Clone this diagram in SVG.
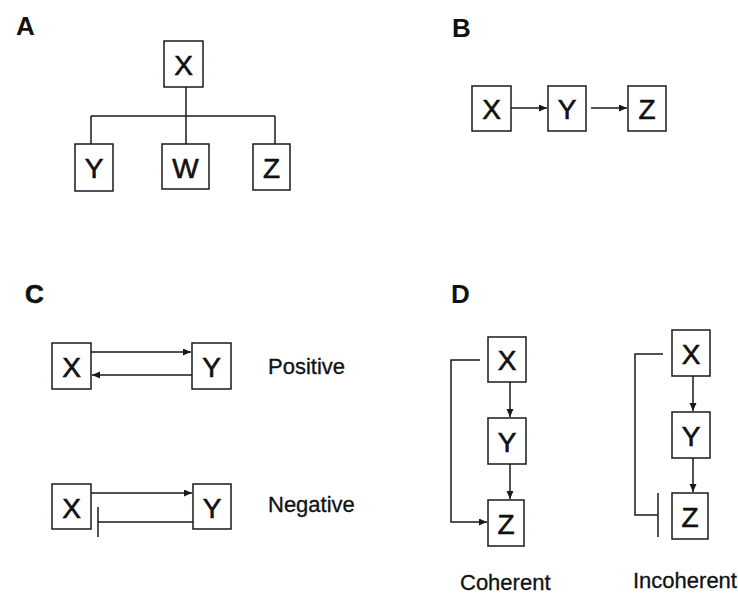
<svg xmlns="http://www.w3.org/2000/svg" width="738" height="596" viewBox="0 0 738 596">
  <style>
    .box { fill: #fff; stroke: #1a1a1a; stroke-width: 1.5; }
    .node { font-family: "Liberation Sans", Arial, sans-serif; font-size: 28px; fill: #111; stroke: #111; stroke-width: 0.6; text-anchor: middle; }
    .panel { font-family: "Liberation Sans", Arial, sans-serif; font-size: 26px; fill: #111; font-weight: bold; }
    .cap { font-family: "Liberation Sans", Arial, sans-serif; font-size: 22px; fill: #111; stroke: #111; stroke-width: 0.3; }
    .wire { fill: none; stroke: #1a1a1a; stroke-width: 1.5; }
    .arr { marker-end: url(#head); }
  </style>
  <defs>
    <marker id="head" markerUnits="userSpaceOnUse" markerWidth="9" markerHeight="8" refX="8" refY="3.5" orient="auto">
      <path d="M0,0 L8,3.5 L0,7 z" fill="#1a1a1a"/>
    </marker>
  </defs>
  <rect width="738" height="596" fill="#fff"/>

  <!-- panel labels -->
  <text class="panel" x="16" y="35">A</text>
  <text class="panel" x="452" y="37">B</text>
  <text class="panel" x="25" y="303" font-weight="normal" stroke="#111" stroke-width="0.6">C</text>
  <text class="panel" x="451" y="303">D</text>

  <!-- captions -->
  <text class="cap" x="268" y="374">Positive</text>
  <text class="cap" x="268" y="512">Negative</text>
  <text class="cap" x="460" y="590">Coherent</text>
  <text class="cap" x="633" y="588">Incoherent</text>

  <g id="connectors">
    <!-- A: X fans out to Y, W, Z -->
    <path class="wire" d="M186,87 V144 M91,116 H275 M91,116 V144 M275,116 V144"/>
    <!-- B: cascade -->
    <line class="wire arr" x1="511" y1="108" x2="547" y2="108"/>
    <line class="wire arr" x1="591" y1="108" x2="627" y2="108"/>
    <!-- C positive loop -->
    <line class="wire arr" x1="91" y1="352" x2="191" y2="352"/>
    <line class="wire arr" x1="194" y1="375" x2="92" y2="375"/>
    <!-- C negative loop -->
    <line class="wire arr" x1="91" y1="493" x2="192" y2="493"/>
    <path class="wire" d="M194,522 H98 M98,507 V537"/>
    <!-- D coherent -->
    <line class="wire arr" x1="510" y1="382" x2="510" y2="417"/>
    <line class="wire arr" x1="510" y1="464" x2="510" y2="499"/>
    <path class="wire arr" d="M480,360 H451 V522 H487"/>
    <!-- D incoherent -->
    <line class="wire arr" x1="693" y1="376" x2="693" y2="411"/>
    <line class="wire arr" x1="693" y1="458" x2="693" y2="492"/>
    <path class="wire" d="M663,354 H635 V515 H658 M658,493 V537"/>
  </g>

  <!-- A -->
  <g id="a-x"><rect class="box" x="164" y="41" width="39" height="46"/><text class="node" x="183.5" y="75">X</text></g>
  <g id="a-y"><rect class="box" x="75" y="144" width="38" height="47"/><text class="node" x="94" y="178">Y</text></g>
  <g id="a-w"><rect class="box" x="162" y="144" width="47" height="45"/><text class="node" x="185.5" y="178">W</text></g>
  <g id="a-z"><rect class="box" x="253" y="144" width="37" height="46"/><text class="node" x="271.5" y="178">Z</text></g>

  <!-- B -->
  <g id="b-x"><rect class="box" x="472" y="86" width="39" height="45"/><text class="node" x="491.5" y="119">X</text></g>
  <g id="b-y"><rect class="box" x="548" y="86" width="38" height="45"/><text class="node" x="567" y="119">Y</text></g>
  <g id="b-z"><rect class="box" x="628" y="86" width="38" height="45"/><text class="node" x="647" y="119">Z</text></g>

  <!-- C positive -->
  <g id="cp-x"><rect class="box" x="52" y="343" width="39" height="46"/><text class="node" x="71.5" y="377">X</text></g>
  <g id="cp-y"><rect class="box" x="192" y="343" width="39" height="46"/><text class="node" x="211.5" y="377">Y</text></g>

  <!-- C negative -->
  <g id="cn-x"><rect class="box" x="52" y="484" width="39" height="45"/><text class="node" x="71.5" y="518">X</text></g>
  <g id="cn-y"><rect class="box" x="193" y="484" width="38" height="45"/><text class="node" x="212" y="518">Y</text></g>

  <!-- D coherent -->
  <g id="dc-x"><rect class="box" x="488" y="337" width="38" height="45"/><text class="node" x="507" y="370">X</text></g>
  <g id="dc-y"><rect class="box" x="488" y="418" width="38" height="46"/><text class="node" x="507" y="452">Y</text></g>
  <g id="dc-z"><rect class="box" x="488" y="500" width="36" height="46"/><text class="node" x="506" y="534">Z</text></g>

  <!-- D incoherent -->
  <g id="di-x"><rect class="box" x="672" y="330" width="38" height="46"/><text class="node" x="691" y="364">X</text></g>
  <g id="di-y"><rect class="box" x="672" y="412" width="38" height="46"/><text class="node" x="691" y="446">Y</text></g>
  <g id="di-z"><rect class="box" x="672" y="493" width="36" height="46"/><text class="node" x="690" y="527">Z</text></g>
</svg>
